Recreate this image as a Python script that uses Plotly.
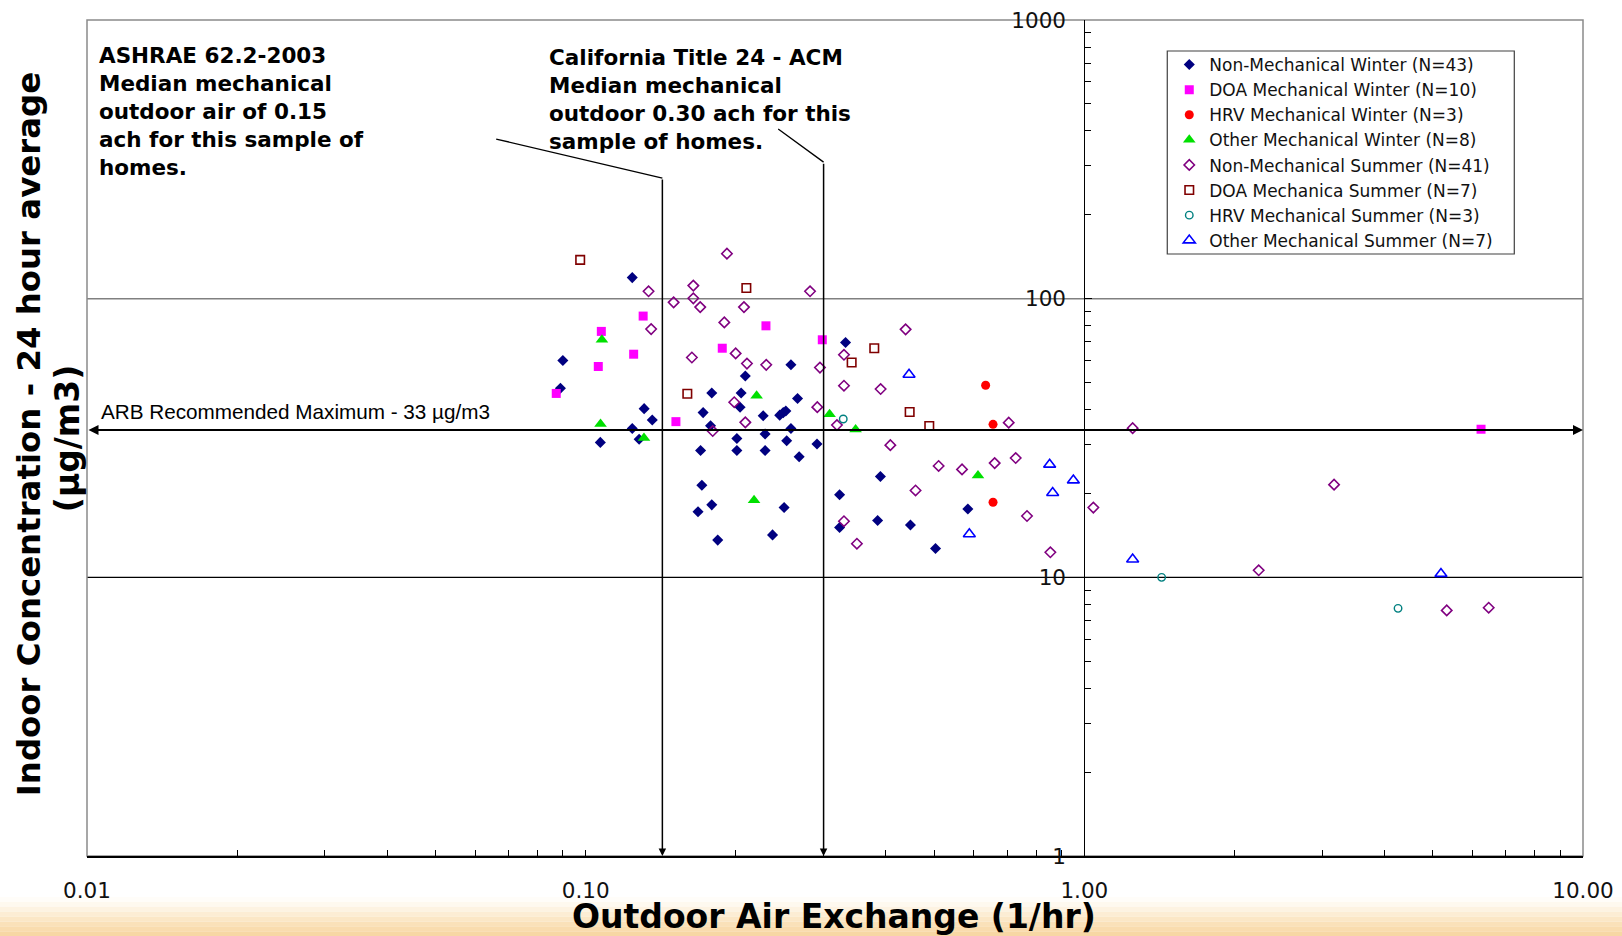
import numpy as np
import plotly.graph_objects as go

# ---------------- data (outdoor air exchange 1/hr, indoor concentration ug/m3) -------------
nmw_x = [0.124, 0.090, 0.089, 0.131, 0.136, 0.124, 0.107, 0.128, 0.179, 0.205, 0.209, 0.172,
         0.178, 0.204, 0.227, 0.245, 0.252, 0.249, 0.258, 0.266, 0.258, 0.229, 0.201, 0.253,
         0.291, 0.170, 0.201, 0.229, 0.268, 0.171, 0.179, 0.168, 0.250, 0.184, 0.237, 0.332,
         0.323, 0.390, 0.323, 0.385, 0.448, 0.584, 0.503]
nmw_y = [119, 60.0, 47.7, 40.3, 36.7, 34.2, 30.5, 31.3, 45.9, 45.9, 52.8, 39.0,
         35.0, 40.8, 38.0, 38.2, 39.5, 39.0, 57.9, 43.8, 34.2, 32.7, 31.5, 30.9,
         30.1, 28.5, 28.5, 28.5, 27.1, 21.4, 18.2, 17.2, 17.8, 13.6, 14.2, 69.6,
         19.8, 23.0, 15.1, 16.0, 15.4, 17.6, 12.7]

doaw_x = [0.0873, 0.1075, 0.1060, 0.1248, 0.1304, 0.1517, 0.1879, 0.2299, 0.2982, 6.245]
doaw_y = [45.7, 76.3, 57.1, 63.2, 86.6, 36.2, 66.4, 79.9, 71.2, 34.0]

hrvw_x = [0.634, 0.656, 0.656]
hrvw_y = [48.9, 35.4, 18.6]

othw_x = [0.1078, 0.1071, 0.1309, 0.2202, 0.2176, 0.3084, 0.3478, 0.612]
othw_y = [71.2, 35.5, 31.6, 44.8, 18.9, 38.5, 33.9, 23.2]

nms_x = [0.192, 0.1337, 0.1644, 0.1501, 0.1644, 0.1697, 0.2077, 0.2818, 0.1353, 0.1897,
         0.1633, 0.1999, 0.2106, 0.2302, 0.2950, 0.4381, 0.3296, 0.3296, 0.3904, 0.1986,
         0.2914, 0.2090, 0.1798, 0.3191, 0.4083, 0.4587, 0.3296, 0.3499, 0.7053, 1.250,
         0.5103, 0.5685, 0.661, 0.7284, 0.7674, 0.8548, 1.0425, 2.237, 3.168, 5.330, 6.470]
nms_y = [145, 106.3, 111.4, 97.0, 100.3, 93.3, 93.3, 106.3, 77.8, 82.2,
         61.5, 63.6, 58.5, 57.9, 56.6, 77.6, 62.9, 48.7, 47.4, 42.5,
         40.8, 36.0, 33.5, 35.2, 29.8, 20.5, 15.9, 13.2, 35.9, 34.3,
         25.1, 24.4, 25.7, 26.8, 16.6, 12.3, 17.8, 10.6, 21.5, 7.61, 7.78]

doas_x = [0.0975, 0.2100, 0.1599, 0.3791, 0.3415, 0.4464, 0.4887]
doas_y = [137.8, 109.2, 45.6, 66.4, 59.0, 39.2, 34.9]

hrvs_x = [0.3285, 1.429, 4.257]
hrvs_y = [37.0, 10.0, 7.74]

oths_x = [0.4451, 0.852, 0.9506, 0.864, 0.588, 1.250, 5.19]
oths_y = [53.4, 25.4, 22.3, 20.1, 14.3, 11.6, 10.3]

series_names = ["Non-Mechanical Winter (N=43)", "DOA Mechanical Winter (N=10)",
                "HRV Mechanical Winter (N=3)", "Other Mechanical Winter (N=8)",
                "Non-Mechanical Summer (N=41)", "DOA Mechanica Summer (N=7)",
                "HRV Mechanical Summer (N=3)", "Other Mechanical Summer (N=7)"]

# reference lines
arb_max = 33.8
ashrae_ach = 0.1425
title24_ach = 0.30
ashrae_callout_x = [0.0657, ashrae_ach]
ashrae_callout_y = [375, 271]
title24_callout_x = [0.2416, title24_ach]
title24_callout_y = [410, 309]

x_tickvals = [0.01, 0.1, 1, 10]
x_ticktext = ["0.01", "0.10", "1.00", "10.00"]
y_tickvals = [1, 10, 100, 1000]
y_ticktext = ["1", "10", "100", "1000"]

# ---------------- figure -------------
styles = [
    dict(symbol="diamond", size=8.5, color="#000080"),
    dict(symbol="square", size=9, color="#FF00FF"),
    dict(symbol="circle", size=9, color="#FF0000"),
    dict(symbol="triangle-up", size=11, color="#00E000"),
    dict(symbol="diamond-open", size=8, color="#800080", line=dict(width=1.6, color="#800080")),
    dict(symbol="square-open", size=8.5, color="#800000", line=dict(width=1.6, color="#800000")),
    dict(symbol="circle-open", size=7.5, color="#008080", line=dict(width=1.4, color="#008080")),
    dict(symbol="triangle-up-open", size=10.5, color="#0000FF", line=dict(width=1.6, color="#0000FF")),
]
data = [(nmw_x, nmw_y), (doaw_x, doaw_y), (hrvw_x, hrvw_y), (othw_x, othw_y),
        (nms_x, nms_y), (doas_x, doas_y), (hrvs_x, hrvs_y), (oths_x, oths_y)]

fig = go.Figure()
for (xs, ys), name, st in zip(data, series_names, styles):
    fig.add_trace(go.Scatter(x=xs, y=ys, mode="markers", name=name, marker=st,
                             cliponaxis=False))

minor_x = [k * 10.0 ** e for e in (-2, -1, 0) for k in range(2, 10)]
minor_y = [k * 10.0 ** e for e in (0, 1, 2) for k in range(2, 10)]

tick_font = dict(family="DejaVu Sans", size=21.5, color="#111")
fig.update_xaxes(type="log", range=[-2, 1], showgrid=False, zeroline=False,
                 showline=True, linecolor="black", linewidth=1.5,
                 tickmode="array", tickvals=x_tickvals, ticktext=x_ticktext,
                 ticks="inside", ticklen=6, tickcolor="black", tickfont=tick_font,
                 ticklabelstandoff=14,
                 minor=dict(tickmode="array", tickvals=minor_x, ticks="inside",
                            ticklen=6, tickcolor="black", showgrid=False))
fig.update_yaxes(type="log", range=[0, 3], showgrid=False, zeroline=False,
                 anchor="free", position=2/3, side="left",
                 showline=True, linecolor="black", linewidth=1,
                 tickmode="array", tickvals=y_tickvals, ticktext=y_ticktext,
                 ticks="inside", ticklen=7, tickcolor="black", tickfont=tick_font,
                 ticklabelstandoff=14,
                 minor=dict(tickmode="array", tickvals=minor_y, ticks="inside",
                            ticklen=6, tickcolor="black", showgrid=False))

T, B, L, R = 20, 856, 86.8, 1582.7

def px_x(fx):
    return (fx - L) / (R - L)

def px_y(fy):
    return 1 - (fy - T) / (B - T)

shapes = []
# bottom background band (slide texture)
band_cols = ["#fffdf9", "#fef9ef", "#fdf3e2", "#fcedd4", "#fbe7c6", "#fae1b9", "#f9dcae", "#f7d7a4"]
y_top, y_bot = px_y(897), px_y(936)
n = len(band_cols)
for i, c in enumerate(band_cols):
    shapes.append(dict(type="rect", xref="paper", yref="paper", layer="below",
                       x0=-0.06, x1=1.03, y0=y_top + (y_bot - y_top) * (i + 1) / n,
                       y1=y_top + (y_bot - y_top) * i / n, line=dict(width=0), fillcolor=c))
# gridlines
shapes.append(dict(type="line", xref="paper", yref="y", x0=0, x1=1, y0=100, y1=100,
                   line=dict(color="#808080", width=1.5), layer="below"))
shapes.append(dict(type="line", xref="paper", yref="y", x0=0, x1=1, y0=10, y1=10,
                   line=dict(color="black", width=1.2), layer="below"))
# plot frame
shapes.append(dict(type="rect", xref="paper", yref="paper", x0=0, x1=1, y0=0, y1=1,
                   line=dict(color="#8a8a8a", width=1.5), layer="below"))
# legend frame
shapes.append(dict(type="rect", xref="paper", yref="paper", x0=px_x(1167), x1=px_x(1514),
                   y0=px_y(254), y1=px_y(51), line=dict(color="#404040", width=1.2),
                   fillcolor="white", layer="below"))

ann = []
lg = np.log10
# ARB double arrow
ann.append(dict(x=lg(10), y=lg(arb_max), ax=lg(0.01), ay=lg(arb_max), xref="x", yref="y",
                axref="x", ayref="y", text="", showarrow=True, arrowhead=2, arrowside="end+start",
                arrowsize=1, arrowwidth=2, arrowcolor="black"))
# callouts
for cx, cy in ((ashrae_callout_x, ashrae_callout_y), (title24_callout_x, title24_callout_y)):
    ann.append(dict(x=lg(cx[1]), y=lg(cy[1]), ax=lg(cx[0]), ay=lg(cy[0]), xref="x", yref="y",
                    axref="x", ayref="y", text="", showarrow=True, arrowhead=0,
                    arrowwidth=1.3, arrowcolor="black"))
    ann.append(dict(x=lg(cx[1]), y=0, ax=lg(cx[1]), ay=lg(cy[1]), xref="x", yref="y",
                    axref="x", ayref="y", text="", showarrow=True, arrowhead=2,
                    arrowsize=1, arrowwidth=1.5, arrowcolor="black"))

bold = dict(family="DejaVu Sans", size=21.5, color="black")
ann.append(dict(xref="paper", yref="paper", x=px_x(97), y=px_y(41), xanchor="left", yanchor="top",
                align="left", showarrow=False, font=bold,
                text="<b>ASHRAE 62.2-2003<br>Median mechanical<br>outdoor air of 0.15<br>"
                     "ach for this sample of<br>homes.</b>"))
ann.append(dict(xref="paper", yref="paper", x=px_x(547), y=px_y(43), xanchor="left", yanchor="top",
                align="left", showarrow=False, font=bold,
                text="<b>California Title 24 - ACM<br>Median mechanical<br>"
                     "outdoor 0.30 ach for this<br>sample of homes.</b>"))
ann.append(dict(xref="paper", yref="paper", x=px_x(99), y=px_y(411), xanchor="left", yanchor="middle",
                showarrow=False, font=dict(family="Liberation Sans", size=20.7, color="black"),
                text="ARB Recommended Maximum - 33 µg/m3"))
# axis titles
ann.append(dict(xref="paper", yref="paper", x=px_x(834), y=px_y(916), xanchor="center",
                yanchor="middle", showarrow=False,
                font=dict(family="DejaVu Sans", size=33, color="black"),
                text="<b>Outdoor Air Exchange (1/hr)</b>"))
ann.append(dict(xref="paper", yref="paper", x=px_x(29), y=px_y(434), xanchor="center",
                yanchor="middle", showarrow=False,
                font=dict(family="DejaVu Sans", size=32.4, color="black"), textangle=-90,
                text="<b>Indoor Concentration - 24 hour average</b>"))
ann.append(dict(xref="paper", yref="paper", x=px_x(67), y=px_y(439), xanchor="center",
                yanchor="middle", showarrow=False,
                font=dict(family="DejaVu Sans", size=33, color="black"), textangle=-90,
                text="<b>(µg/m3)</b>"))

fig.update_layout(
    width=1622, height=936,
    margin=dict(l=L, r=1622 - R, t=T, b=936 - B, pad=0, autoexpand=False),
    paper_bgcolor="white", plot_bgcolor="white",
    shapes=shapes, annotations=ann,
    showlegend=True,
    legend=dict(x=px_x(1169), y=px_y(47), xanchor="left", yanchor="top",
                bgcolor="rgba(0,0,0,0)", borderwidth=0,
                font=dict(family="DejaVu Sans", size=17, color="#111"),
                itemwidth=30),
)

fig.write_html("out.html", config={"displayModeBar": False},
               post_script="document.body.style.margin='0';document.body.style.overflow='hidden';")
